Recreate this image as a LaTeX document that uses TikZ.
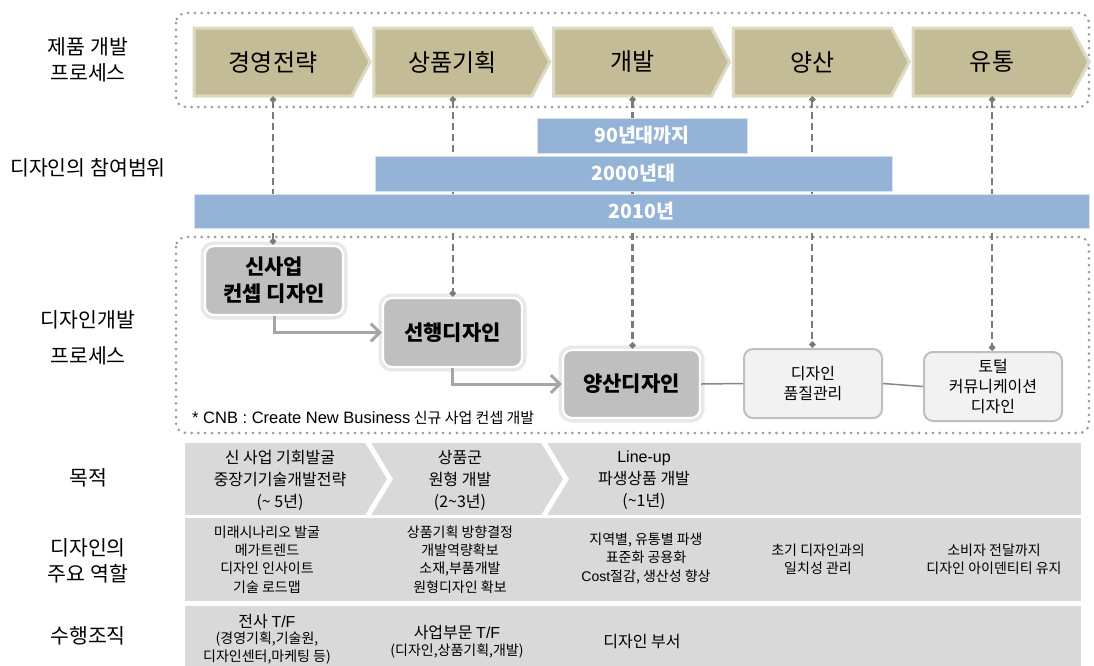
\documentclass[tikz,border=0pt]{standalone}
\usepackage{fontspec}
\setmainfont{Noto Sans CJK KR}
\newfontfamily\arialf{Liberation Sans}
\usetikzlibrary{arrows.meta,calc}
\definecolor{khaki}{HTML}{C4BC96}
\definecolor{khakiedge}{HTML}{DDD9C3}
\definecolor{barblue}{HTML}{95B3D7}
\definecolor{rowgray}{HTML}{D9D9D9}
\definecolor{nodegray}{HTML}{BFBFBF}
\definecolor{lightnode}{HTML}{F2F2F2}
\definecolor{dotgray}{HTML}{9C9C9C}
\definecolor{dashgray}{HTML}{7A7A7A}
\definecolor{flowgray}{HTML}{A6A6A6}
\tikzset{
  chev/.style={fill=khaki, draw=khakiedge, line width=3pt, line join=miter},
  chevtext/.style={font=\fontsize{24}{26}\selectfont, inner sep=0},
  dotbox/.style={draw=dotgray, line width=3pt, dash pattern=on 0pt off 6.8pt, line cap=round, rounded corners=10pt},
  vlink/.style={draw=dashgray, line width=2.2pt, dash pattern=on 7pt off 4pt, {Diamond[length=7pt,width=7pt]}-{Diamond[length=7pt,width=7pt]}},
  bar/.style={fill=barblue, draw=white!60!barblue, line width=0.8pt, text=white, font=\fontsize{19.5}{22}\selectfont\bfseries, inner sep=0},
  dnode/.style={rounded corners=9pt, fill=nodegray, draw=white, line width=2.2pt, font=\fontsize{21}{27}\selectfont\bfseries, align=center, inner sep=0, preaction={draw=black!9, line width=9pt}},
  lnode/.style={rounded corners=9pt, fill=lightnode, draw=nodegray, line width=2pt, font=\fontsize{16}{20}\selectfont, align=center, inner sep=0},
  flow/.style={draw=flowgray, line width=3pt, -{Straight Barb[length=9pt,width=18pt]}},
  plain/.style={draw=dashgray!90, line width=1.5pt},
  lbl/.style={font=\fontsize{20.5}{26}\selectfont, align=center, inner sep=0},
  rowbg/.style={fill=rowgray, draw=none},
  sep/.style={draw=white, line width=5pt, line join=miter},
  rtxt/.style={font=\fontsize{16}{22}\selectfont, align=center, inner sep=0},
  stxt/.style={font=\fontsize{14}{18.3}\selectfont, align=center, inner sep=0},
}
\begin{document}
\begin{tikzpicture}[x=1pt,y=-1pt]
\useasboundingbox (0,0) rectangle (1094,665);
\clip (0,0) rectangle (1094,665);

% left labels
\node[lbl] (l1) at (88,60) {제품 개발\\프로세스};
\node[lbl] (l2) at (88,168) {디자인의 참여범위};
\node[lbl, font=\fontsize{20.5}{36}\selectfont] (l3) at (88,338) {디자인개발\\프로세스};
\node[lbl] (l4) at (88,478) {목적};
\node[lbl] (l5) at (88,561) {디자인의\\주요 역할};
\node[lbl] (l6) at (88,636) {수행조직};

% dotted boxes
\draw[dotbox] (176,13) rectangle (1089,107);
\draw[dotbox] (176,237) rectangle (1089,433);

% product process chevrons
\foreach \i/\t in {0/경영전략,1/상품기획,2/개발,3/양산,4/유통} {
  \pgfmathsetmacro\xa{194+179.75*\i}
  \draw[chev] (\xa,28) -- ++(158,0) -- ++(18,34) -- ++(-18,34) -- ++(-158,0) -- cycle;
  \node[chevtext] (p\i) at (\xa+79,62) {\t};
  \coordinate (c\i) at (\xa+79,96);
}

% design process nodes
\node[dnode, minimum width=138pt, minimum height=69pt] (n1) at (274,280.5) {신사업\\컨셉 디자인};
\node[dnode, minimum width=139pt, minimum height=69pt] (n2) at (452.5,332.5) {선행디자인};
\node[dnode, minimum width=137pt, minimum height=68pt] (n3) at (631.5,384) {양산디자인};
\node[lnode, minimum width=138pt, minimum height=69pt] (n4) at (813,383.5) {디자인\\품질관리};
\node[lnode, minimum width=138pt, minimum height=69pt] (n5) at (993,386.5) {토털\\커뮤니케이션\\디자인};

% dashed links
\draw[vlink] (c0) -- (c0 |- n1.north);
\draw[vlink] (c1) -- (c1 |- n2.north);
\draw[vlink] (c2) -- (c2 |- n3.north);
\draw[vlink] (c3) -- (c3 |- n4.north);
\draw[vlink] (c4) -- (c4 |- n5.north);

% participation bars
\node[bar, minimum width=210pt, minimum height=35pt] (b90) at (642,135.5) {90년대까지};
\node[bar, minimum width=517pt, minimum height=35pt] (b00) at (633.5,173.5) {2000년대};
\node[bar, minimum width=895pt, minimum height=34pt] (b10) at (641.5,211) {2010년};

% flows
\draw[flow] (n1.south) |- (n2.west);
\draw[flow] (n2.south) |- (n3.west);
\draw[plain] (n3.east) -- (n4.west);
\draw[plain] (n4.east) -- (n5.west);

\node[anchor=west, font=\fontsize{15}{17}\selectfont, inner sep=0] (fn) at (192,418) {{\arialf\fontsize{16.5}{17}\selectfont * CNB : Create New Business} 신규 사업 컨셉 개발};

% bottom table rows
\fill[rowbg] (185,443) rectangle (1081,515);
\draw[sep] (367,441) -- (390,479) -- (367,517);
\draw[sep] (543,441) -- (566,479) -- (543,517);
\fill[rowbg] (185,518) rectangle (1081,601);
\fill[rowbg] (185,606) rectangle (1081,680);

\node[rtxt] (g1) at (280,480) {신 사업 기회발굴\\중장기기술개발전략\\(\textasciitilde\ 5년)};
\node[rtxt] (g2) at (460,480) {상품군\\원형 개발\\(2\textasciitilde 3년)};
\node[rtxt] (g3) at (644,480) {{\arialf Line-up}\\파생상품 개발\\(\textasciitilde 1년)};

\node[stxt] (r1) at (267,559.5) {미래시나리오 발굴\\메가트렌드\\디자인 인사이트\\기술 로드맵};
\node[stxt] (r2) at (460,559.5) {상품기획 방향결정\\개발역량확보\\소재,부품개발\\원형디자인 확보};
\node[stxt] (r3) at (646,558.5) {지역별, 유통별 파생\\표준화 공용화\\{\arialf Cost}절감, 생산성 향상};
\node[stxt] (r4) at (818,559) {초기 디자인과의\\일치성 관리};
\node[stxt] (r5) at (994,559) {소비자 전달까지\\디자인 아이덴티티 유지};

\node[rtxt] (o1a) at (267,621) {전사 {\arialf T/F}};
\node[stxt, font=\fontsize{14}{18}\selectfont] (o1b) at (267,648) {(경영기획,기술원,\\디자인센터,마케팅 등)};
\node[rtxt] (o2a) at (457,632) {사업부문 {\arialf T/F}};
\node[stxt] (o2b) at (457,651) {(디자인,상품기획,개발)};
\node[rtxt] (o3) at (642,642) {디자인 부서};
\end{tikzpicture}
\end{document}
